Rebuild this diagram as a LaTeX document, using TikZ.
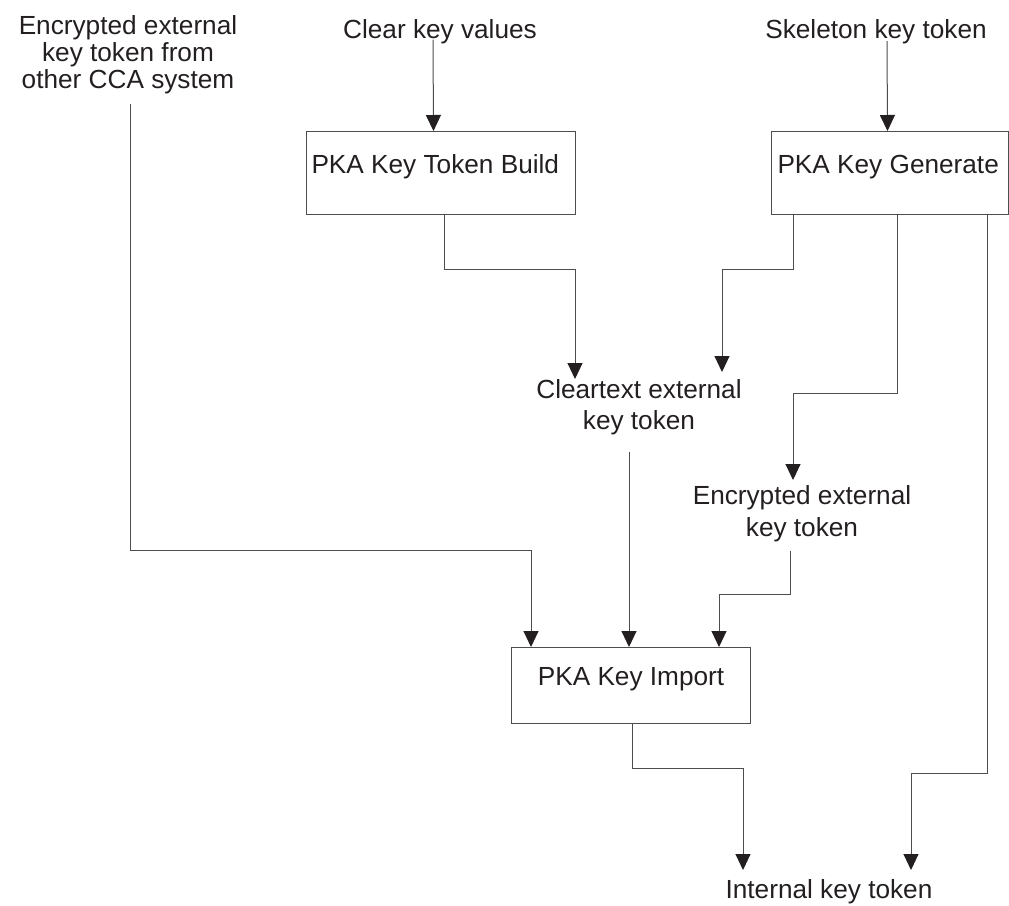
\documentclass[tikz,border=0pt]{standalone}
\usepackage{fontspec}
\setmainfont{Liberation Sans}
\usetikzlibrary{arrows.meta}
\definecolor{ink}{HTML}{231F20}
\definecolor{linegray}{HTML}{4D4D4D}
\tikzstyle{func} = [rectangle, draw=linegray, line width=1pt, anchor=north west, minimum height=83pt, text height=19pt, text depth=19pt, inner ysep=0pt, text=ink]
\tikzstyle{lbl} = [align=center, inner sep=0pt, text=ink]
\tikzstyle{conn} = [draw=linegray, line width=1pt]

\begin{document}
\begin{tikzpicture}[->,>={Triangle[width=15pt,length=16pt,color=ink]},x=1pt,y=-1pt,font=\fontsize{26.2}{27}\selectfont]
  \useasboundingbox (0,0) rectangle (1009,905);
  \node[lbl, anchor=north] (Ext) at (128,15) {Encrypted external\\key token from\\other CCA system};
  \node[lbl, anchor=base] (ClrVal) at (440,38) {Clear key values};
  \node[lbl, anchor=base] (Skel) at (876,38) {Skeleton key token};
  \node[func, inner xsep=5pt] (Build) at (306,131) {\makebox[259pt][l]{PKA Key Token Build}};
  \node[func, inner xsep=6pt] (Gen) at (771,131) {\makebox[225pt][l]{PKA Key Generate}};
  \node[lbl, anchor=north, font=\fontsize{26.2}{31}\selectfont] (Clr) at (639,379) {Cleartext external\\key token};
  \node[lbl, anchor=north, font=\fontsize{26.2}{32}\selectfont] (Enc) at (802,485) {Encrypted external\\key token};
  \node[func, minimum width=239pt, minimum height=76pt] (Imp) at (511,647) {PKA Key Import};
  \node[lbl, anchor=north] (Int) at (829,879) {Internal key token};

  \draw[conn] ([xshift=-7pt,yshift=4pt]ClrVal.south) -- ([xshift=-7.5pt]Build.north);
  \draw[conn] ([xshift=11pt,yshift=2.5pt]Skel.south) -- ([xshift=-2.5pt]Gen.north);
  \draw[conn] ([xshift=2pt,yshift=-10pt]Ext.south) |- ([xshift=20pt,yshift=97pt]Imp.north west) -- ([xshift=20pt]Imp.north west);
  \draw[conn] ([xshift=138pt]Build.south west) -- ++(0,54) -| ([xshift=-64pt]Clr.north);
  \draw[conn] ([xshift=22pt]Gen.south west) -- ++(0,54) -| ([xshift=83pt,yshift=7pt]Clr.north);
  \draw[conn] ([xshift=126pt]Gen.south west) -- ++(0,178) -| ([xshift=-9pt,yshift=5pt]Enc.north);
  \draw[conn] ([xshift=216pt]Gen.south west) -- ++(0,558) -| ([xshift=82pt,yshift=9pt]Int.north);
  \draw[conn] ([xshift=-10pt,yshift=-17pt]Clr.south) -- ([xshift=118pt]Imp.north west);
  \draw[conn] ([xshift=-12pt,yshift=-9pt]Enc.south) -- ++(0,44) -| ([xshift=208pt]Imp.north west);
  \draw[conn] ([xshift=121pt]Imp.south west) -- ++(0,44) -| ([xshift=-86pt,yshift=9pt]Int.north);
\end{tikzpicture}
\end{document}
